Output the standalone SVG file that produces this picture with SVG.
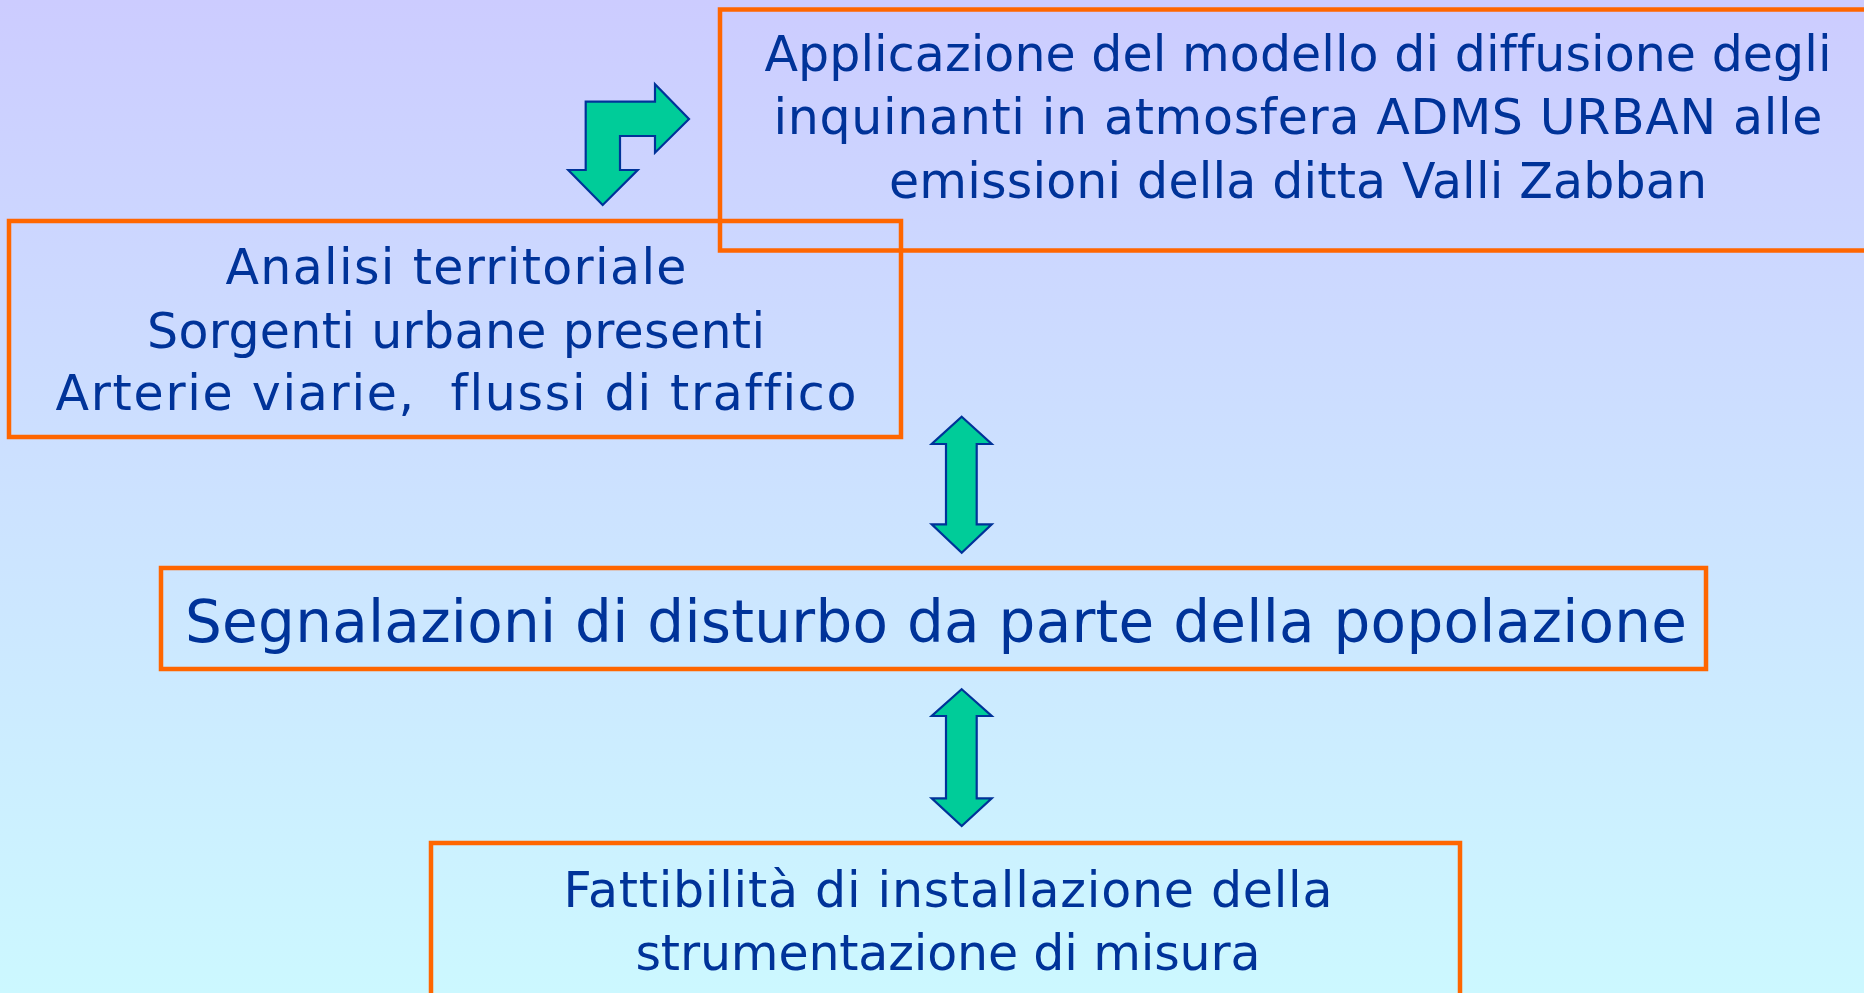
<svg xmlns="http://www.w3.org/2000/svg" width="1864" height="993" viewBox="0 0 1864 993">
<defs>
<linearGradient id="bg" x1="0" y1="0" x2="0" y2="1">
<stop offset="0" stop-color="#CCCCFF"/>
<stop offset="1" stop-color="#CCF8FF"/>
</linearGradient>
<style>
.box{fill:none;stroke:#FF6600;stroke-width:4.5}
.t{font-family:"DejaVu Sans","Liberation Sans",sans-serif;fill:#003399;text-anchor:middle;font-size:49px;font-variant-ligatures:none}
.arr{fill:#00CC99;stroke:#003399;stroke-width:2.2;stroke-linejoin:miter}
</style>
</defs>
<rect x="0" y="0" width="1864" height="993" fill="url(#bg)"/>
<g id="node-applicazione">
<rect class="box" x="720" y="9.5" width="1160" height="241"/>
<text class="t" x="1298" y="71" textLength="1067" lengthAdjust="spacing">Applicazione del modello di diffusione degli</text>
<text class="t" x="1298" y="134" textLength="1049" lengthAdjust="spacing">inquinanti in atmosfera ADMS URBAN alle</text>
<text class="t" x="1298" y="198" textLength="818" lengthAdjust="spacing">emissioni della ditta Valli Zabban</text>
</g>
<g id="node-analisi">
<rect class="box" x="9" y="221" width="892" height="216"/>
<text class="t" x="456" y="284" textLength="461" lengthAdjust="spacing">Analisi territoriale</text>
<text class="t" x="456" y="348" textLength="618" lengthAdjust="spacing">Sorgenti urbane presenti</text>
<text class="t" x="456" y="410" textLength="801" lengthAdjust="spacing" xml:space="preserve">Arterie viarie,  flussi di traffico</text>
</g>
<g id="node-segnalazioni">
<rect class="box" x="161" y="568" width="1545" height="101"/>
<text class="t" x="936" y="642" style="font-size:58px" textLength="1502" lengthAdjust="spacing">Segnalazioni di disturbo da parte della popolazione</text>
</g>
<g id="node-fattibilita">
<rect class="box" x="431" y="843" width="1029" height="170"/>
<text class="t" x="948" y="907" textLength="769" lengthAdjust="spacing">Fattibilità di installazione della</text>
<text class="t" x="948" y="970" textLength="625" lengthAdjust="spacing">strumentazione di misura</text>
</g>
<g id="connectors">
<path class="arr" d="M585.7,101.7 L655,101.7 L655,84.3 L689,119 L655,152.7 L655,136 L620,136 L620,170 L637.7,170 L602.7,205 L568.3,170 L585.7,170 Z"/>
<path class="arr" d="M961.7,416.7 L991.7,444 L976.7,444 L976.7,524.3 L991.7,524.3 L961.7,552.7 L931.7,524.3 L946,524.3 L946,444 L931.7,444 Z"/>
<path class="arr" d="M961.7,689.3 L991.7,716 L976.7,716 L976.7,798.3 L991.7,798.3 L961.7,826 L931.7,798.3 L946,798.3 L946,716 L931.7,716 Z"/>
</g>
</svg>
